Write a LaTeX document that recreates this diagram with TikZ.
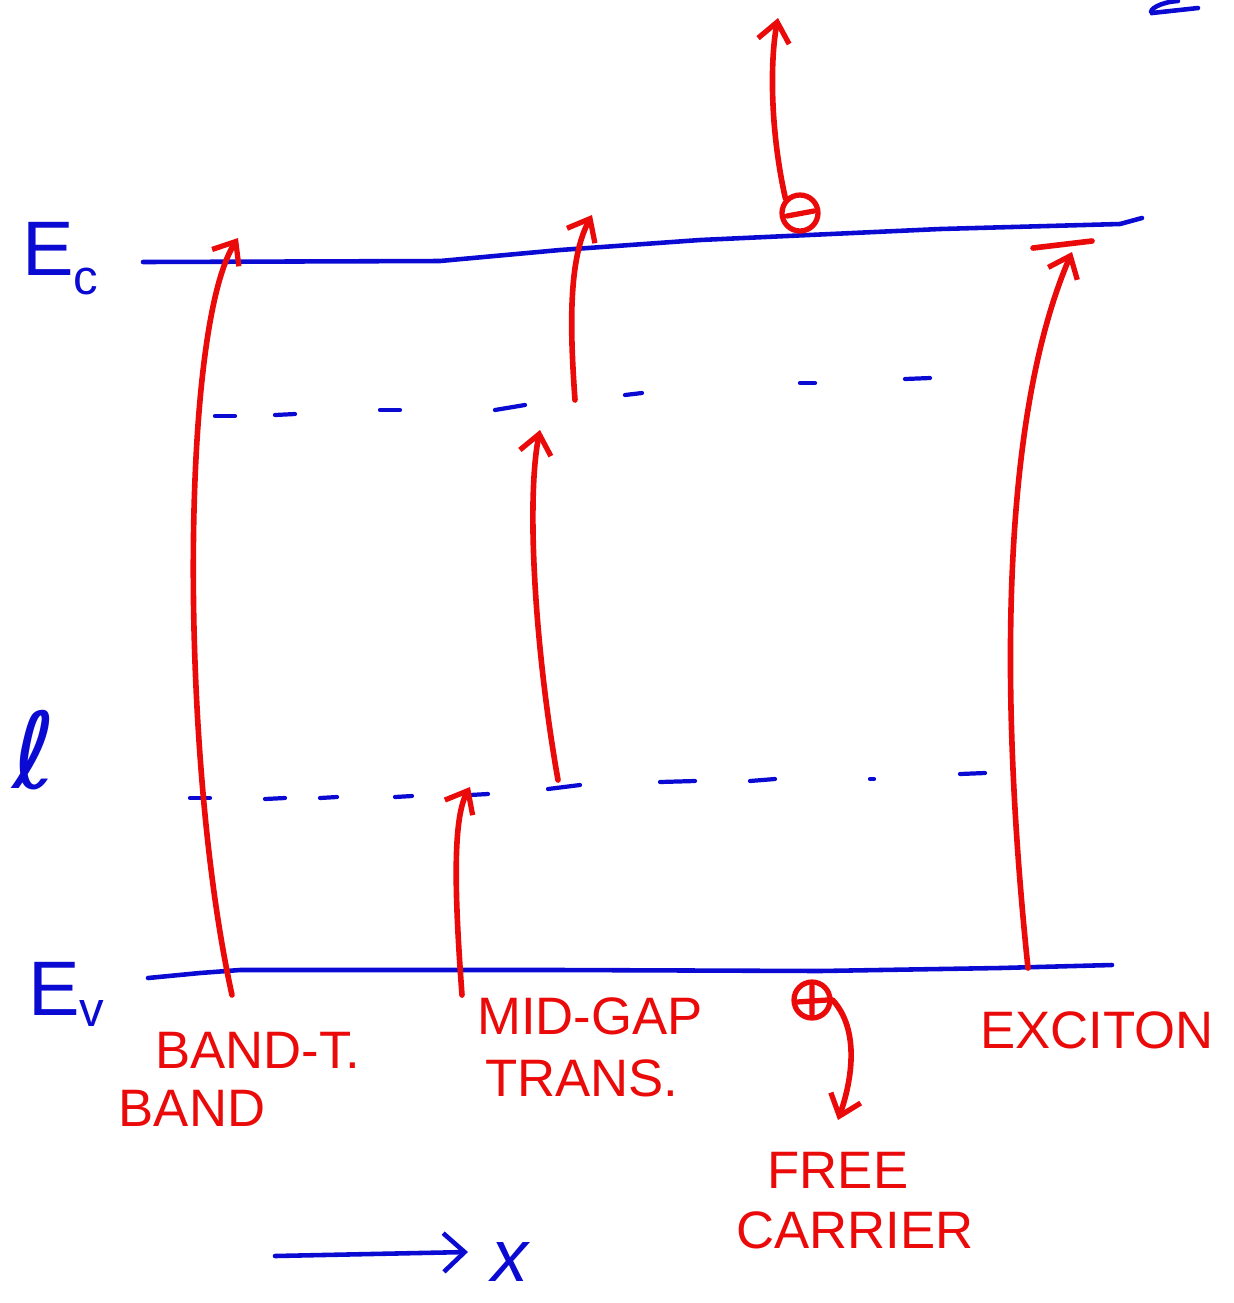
\documentclass[tikz,border=0pt]{standalone}
\usepackage{fontspec}
\setmainfont{Liberation Sans}
\newfontfamily\djfont{DejaVu Sans}
\usetikzlibrary{arrows.meta}
\definecolor{pen}{RGB}{10,10,210}
\definecolor{ink}{RGB}{235,10,10}
\begin{document}
\begin{tikzpicture}[x=0.02cm,y=-0.02cm,
  band/.style={pen, line width=2.6pt, line cap=round, line join=round},
  lvl/.style={pen, line width=2.4pt, line cap=round},
  tr/.style={ink, line width=3.2pt, line cap=round,
    -{Straight Barb[length=11pt,width=18pt,line width=3pt]}},
  lab/.style={ink, font=\fontsize{30}{34}\selectfont, inner sep=0pt},
  blab/.style={pen, inner sep=0pt},
  dot/.style={circle, draw=ink, line width=3pt, minimum size=0.72cm, inner sep=0pt}]
\useasboundingbox (0,0) rectangle (1234,1303);

% band edges
\draw[band] (143,262) -- (440,261) -- (560,250) -- (700,240) -- (940,229) -- (1120,224) -- (1142,218);
\draw[band] (148,978) -- (200,973) -- (240,970) -- (560,970) -- (820,971) -- (1000,968) -- (1112,965);

% mid-gap levels
\foreach \a/\b/\y/\z in {215/235/416/416, 275/295/415/414, 380/400/410/410, 495/525/410/405,
  625/642/395/393, 800/815/383/383, 905/930/379/378}
  \draw[lvl] (\a,\y) -- (\b,\z);
\foreach \a/\b/\y/\z in {190/210/798/798, 265/285/799/798, 320/337/798/797, 395/412/797/796,
  470/488/795/794, 548/580/789/785, 660/695/782/781, 750/775/781/779, 870/874/779/779, 960/985/774/773}
  \draw[lvl] (\a,\y) -- (\b,\z);

% labels (blue)
\node[blab, anchor=base west, font=\fontsize{44}{48}\selectfont] (Ec) at (22,275)
  {E\raisebox{-0.25em}{\fontsize{28}{28}\selectfont c}};
\node[blab, anchor=base west, font=\fontsize{44}{48}\selectfont] (Ev) at (28,1015)
  {E\raisebox{-0.15em}{\fontsize{28}{28}\selectfont v}};
\node[blab, font=\djfont\fontsize{60}{60}\selectfont] (ell) at (34,750) {ℓ};
\draw[pen, line width=2.6pt, line cap=round] (1178,1) .. controls (1160,2) and (1148,10) .. (1152,13) -- (1198,8);

% transitions
\coordinate (bbS) at (232,995); \coordinate (bbE) at (238,238);
\draw[tr] (bbS) .. controls (180,760) and (180,330) .. (bbE);

\coordinate (m1S) at (575,400); \coordinate (m1E) at (592,215);
\draw[tr] (m1S) .. controls (570,330) and (568,260) .. (m1E);

\coordinate (m2S) at (558,780); \coordinate (m2E) at (540,430);
\draw[tr] (m2S) .. controls (535,650) and (526,500) .. (m2E);

\coordinate (m3S) at (462,995); \coordinate (m3E) at (470,787);
\draw[tr] (m3S) .. controls (455,900) and (452,820) .. (m3E);

\coordinate (exS) at (1028,968); \coordinate (exE) at (1072,252);
\draw[tr] (exS) .. controls (1000,700) and (1000,420) .. (exE);
\draw[ink, line width=3.2pt, line cap=round] (1033,248) -- (1092,241);

% free electron
\node[dot] (el) at (800,213) {};
\draw[ink, line width=3pt, line cap=round] (787,216) -- (814,211);
\coordinate (elE) at (778,18);
\draw[tr] (el.north west) .. controls (770,130) and (770,60) .. (elE);

% free hole
\node[dot] (hole) at (812,1000) {};
\draw[ink, line width=3pt, line cap=round] (797,1002) -- (827,1000) (812,986) -- (812,1014);
\coordinate (hE) at (838,1120);
\draw[tr] (hole.east) .. controls (860,1030) and (852,1080) .. (hE);

% red labels
\node[lab] (l1) at (258,1050) {BAND-T.};
\node[lab] (l2) at (192,1108) {BAND};
\node[lab] (l3) at (590,1016) {MID-GAP};
\node[lab] (l4) at (582,1078) {TRANS.};
\node[lab] (l5) at (1097,1030) {EXCITON};
\node[lab] (l6) at (838,1170) {FREE};
\node[lab] (l7) at (855,1230) {CARRIER};

% position axis
\coordinate (ax0) at (275,1256); \coordinate (ax1) at (468,1252);
\draw[pen, line width=2.6pt, line cap=round,
  -{Straight Barb[length=12pt,width=22pt,line width=2.6pt]}] (ax0) -- (ax1);
\node[blab, font=\itshape\fontsize{42}{42}\selectfont] (xl) at (510,1262) {x};
\end{tikzpicture}
\end{document}
